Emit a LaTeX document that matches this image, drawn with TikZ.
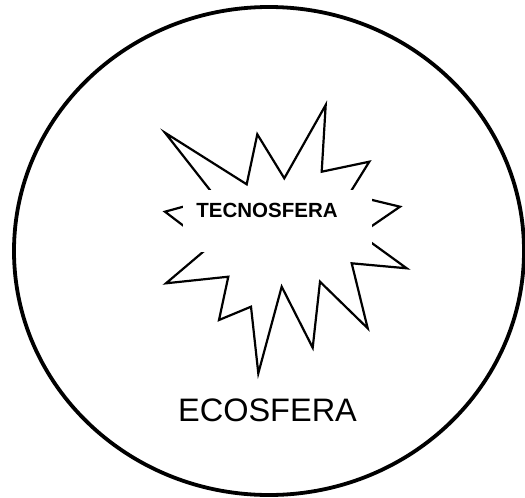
\documentclass[tikz,border=0pt]{standalone}
\usepackage{fontspec}
\setsansfont{Liberation Sans}
\usepackage{tikz}
\usetikzlibrary{positioning}

\begin{document}
\begin{tikzpicture}[x=1pt, y=-1pt, line join=miter]
\useasboundingbox (0,0) rectangle (525,498);
\draw[line width=3.8pt] (269,251) ellipse [x radius=255pt, y radius=244pt];
\draw[line width=2.2pt]
  (165,132.7) -- (246.7,184.3) -- (257.3,134.3) -- (284.3,178.3) -- (325.7,105)
  -- (321.7,171.7) -- (369.3,161.7) -- (349,194.4) -- (400,206.7) -- (359.8,234.3)
  -- (406.7,268.3) -- (351.7,263.3) -- (367.7,328.3) -- (320,281.7) -- (312.7,347.7)
  -- (281.7,286.7) -- (258.3,373.3) -- (251,306.7) -- (219,320) -- (228.3,276.7)
  -- (166,283.3) -- (210,246) -- (165,211.7) -- (216,197.7) -- cycle;
\fill[white] (183.3,190) rectangle (372.3,252.3);
\node[font=\sffamily\bfseries\fontsize{20.5}{24}\selectfont, inner sep=0pt]
  (tecno) at (267,210.5) {TECNOSFERA};
\node[font=\sffamily\fontsize{32.5}{38}\selectfont, inner sep=0pt]
  (eco) at (267.5,410) {ECOSFERA};
\end{tikzpicture}
\end{document}
